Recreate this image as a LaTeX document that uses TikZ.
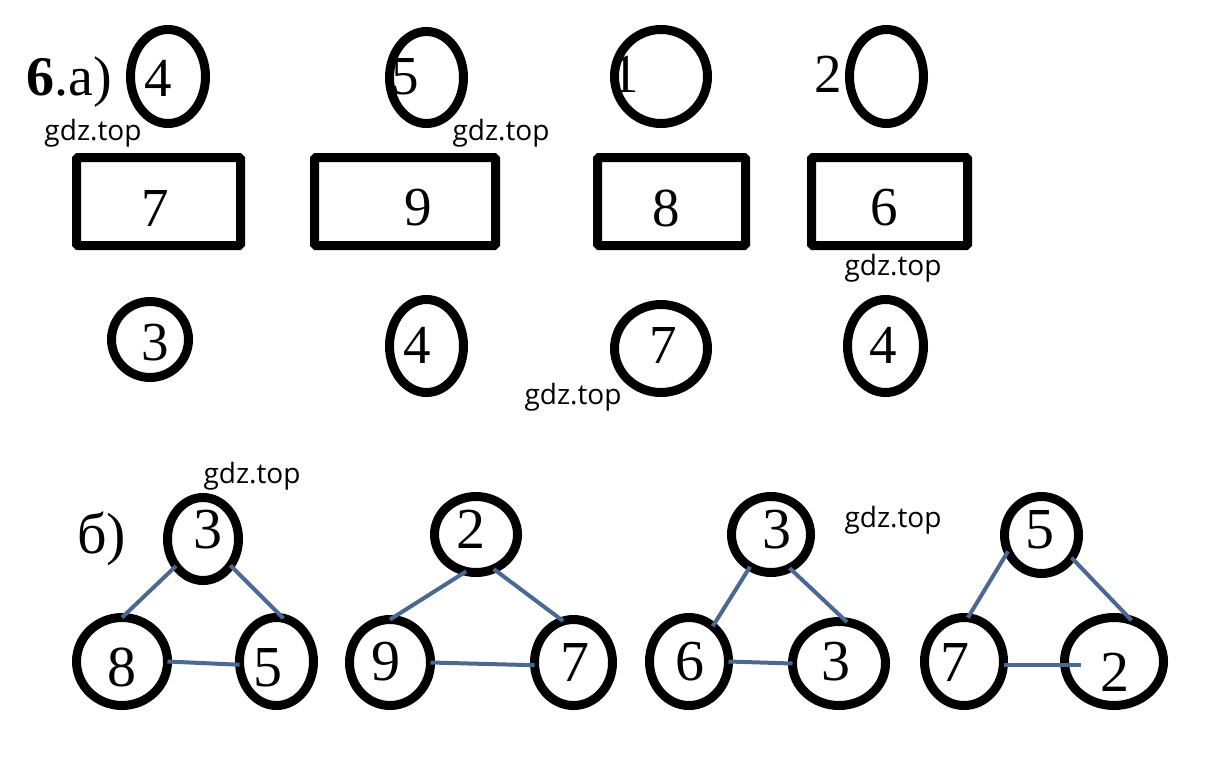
\documentclass[tikz,border=0pt]{standalone}
\usepackage{fontspec}
\setmainfont{Liberation Serif}
\newfontfamily\wmfont{Open Sans}
\usetikzlibrary{shapes.geometric}
\definecolor{edgeblue}{RGB}{74,104,145}
\tikzset{
  ring/.style={ellipse, draw=black, line width=9pt, inner sep=0pt, outer sep=0pt},
  box/.style={rectangle, draw=black, line width=9pt, rounded corners=1.5pt, inner sep=0pt, outer sep=0pt},
  diga/.style={inner sep=0pt, font=\fontsize{55}{60}\selectfont},
  digb/.style={inner sep=0pt, font=\fontsize{58}{62}\selectfont},
  wm/.style={inner sep=0pt, font=\wmfont\fontsize{28}{32}\selectfont},
  edge/.style={draw=edgeblue, line width=4pt}
}
\begin{document}
\begin{tikzpicture}[x=1pt,y=-1pt]
\useasboundingbox (0,0) rectangle (1214,768);
% title
\node[inner sep=0pt, anchor=base west, font=\fontsize{56}{60}\selectfont] (title) at (26,95) {\textbf{6}.а)};
% top row ellipses
\node[ring, minimum width=75pt, minimum height=94pt] (t1) at (168,76.5) {};
\node[ring, minimum width=74pt, minimum height=92pt] (t2) at (426.5,77.5) {};
\node[ring, minimum width=93pt, minimum height=94pt] (t3) at (661,76.5) {};
\node[ring, minimum width=74pt, minimum height=94pt] (t4) at (886.5,76.5) {};
\node[diga] (tn1) at (158,78) {4};
\node[diga] (tn2) at (405,77) {5};
\node[diga] (tn3) at (625,74) {1};
\node[diga] (tn4) at (828,74) {2};
% rectangles
\node[box, minimum width=164pt, minimum height=88pt] (r1) at (158.5,201.5) {};
\node[box, minimum width=181pt, minimum height=88pt] (r2) at (405,201.5) {};
\node[box, minimum width=148pt, minimum height=88pt] (r3) at (671.5,201.5) {};
\node[box, minimum width=156pt, minimum height=88pt] (r4) at (889.5,201.5) {};
\node[diga] (rn1) at (155,208) {7};
\node[diga] (rn2) at (418,208) {9};
\node[diga] (rn3) at (666,208) {8};
\node[diga] (rn4) at (884,208) {6};
% middle row
\node[ring, minimum width=77pt, minimum height=76pt] (m1) at (150,339.5) {};
\node[ring, minimum width=74pt, minimum height=93pt] (m2) at (426.5,346) {};
\node[ring, minimum width=93pt, minimum height=88pt] (m3) at (661,348.5) {};
\node[ring, minimum width=76pt, minimum height=93pt] (m4) at (885.5,346) {};
\node[diga] (mn1) at (155,343) {3};
\node[diga] (mn2) at (417,345) {4};
\node[diga] (mn3) at (663,345) {7};
\node[diga] (mn4) at (883,345) {4};
% part b label
\node[inner sep=0pt, anchor=base west, font=\fontsize{58}{62}\selectfont] (blabel) at (77,553) {б)};
% group 1
\node[ring, minimum width=71pt, minimum height=83pt] (a1) at (203,539) {};
\node[ring, minimum width=91pt, minimum height=88pt] (a2) at (122,661.5) {};
\node[ring, minimum width=74pt, minimum height=88pt] (a3) at (276.5,661.5) {};
\node[digb] (an1) at (208,530) {3};
\node[digb] (an2) at (122,667) {8};
\node[digb] (an3) at (268,668) {5};
\draw[edge] (a1.225) -- (a2.90);
\draw[edge] (a1.316) -- (a3.81);
\draw[edge] (a2.0) -- (a3.185);
% group 2
\node[ring, minimum width=83pt, minimum height=76pt] (b1) at (476,534.5) {};
\node[ring, minimum width=81pt, minimum height=86pt] (b2) at (390,662.5) {};
\node[ring, minimum width=78pt, minimum height=86pt] (b3) at (573.5,662.5) {};
\node[digb] (bn1) at (471,529) {2};
\node[digb] (bn2) at (386,662) {9};
\node[digb] (bn3) at (575,663) {7};
\draw[edge] (b1.255) -- (b2.90);
\draw[edge] (b1.297) -- (b3.104);
\draw[edge] (b2.0) -- (b3.184);
% group 3
\node[ring, minimum width=79pt, minimum height=76pt] (c1) at (771,534.5) {};
\node[ring, minimum width=79pt, minimum height=88pt] (c2) at (689,661.5) {};
\node[ring, minimum width=93pt, minimum height=84pt] (c3) at (839,663.5) {};
\node[digb] (cn1) at (777,530) {3};
\node[digb] (cn2) at (690,662) {6};
\node[digb] (cn3) at (836,662) {3};
\draw[edge] (c1.237) -- (c2.56);
\draw[edge] (c1.299) -- (c3.79);
\draw[edge] (c2.0) -- (c3.180);
% group 4
\node[ring, minimum width=74pt, minimum height=77pt] (d1) at (1041.5,535) {};
\node[ring, minimum width=79pt, minimum height=88pt] (d2) at (964,661.5) {};
\node[ring, minimum width=99pt, minimum height=88pt] (d3) at (1114,661.5) {};
\node[digb] (dn1) at (1040,530) {5};
\node[digb] (dn2) at (955,663) {7};
\node[digb] (dn3) at (1115,672) {2};
\draw[edge] (d1.206) -- (d2.85);
\draw[edge] (d1.323) -- (d3.67);
\draw[edge] ([yshift=-3pt]d2.0) -- ([xshift=16pt,yshift=-3pt]d3.180);
% watermarks
\node[wm] (w1) at (93,133) {gdz.top};
\node[wm] (w2) at (501,133) {gdz.top};
\node[wm] (w3) at (893,268) {gdz.top};
\node[wm] (w4) at (573,397) {gdz.top};
\node[wm] (w5) at (252,476) {gdz.top};
\node[wm] (w6) at (893,520) {gdz.top};
\end{tikzpicture}
\end{document}
